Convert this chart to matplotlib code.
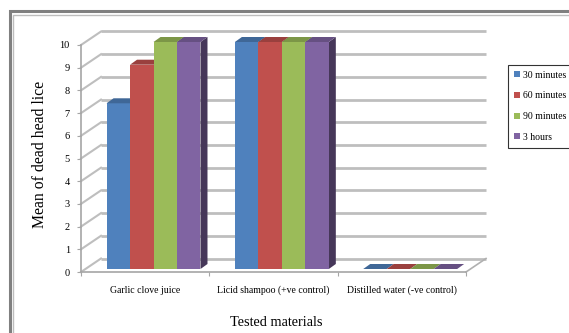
import matplotlib.pyplot as plt
from matplotlib.patches import Polygon, Rectangle, Patch
import matplotlib.colors as mcolors

# Mean number of dead head lice per treatment and exposure time
materials = ['Garlic clove juice', 'Licid shampoo (+ve control)', 'Distilled water (-ve control)']
times = ['30 minutes', '60 minutes', '90 minutes', '3 hours']
garlic = [7.3, 9.0, 10.0, 10.0]
shampoo = [10.0, 10.0, 10.0, 10.0]
water = [0.0, 0.0, 0.0, 0.0]
series = [garlic, shampoo, water]
colors = ['#4F81BD', '#C0504D', '#9BBB59', '#8064A2']

plt.rcParams['font.family'] = 'Liberation Serif'

W, H = 569, 333
fig = plt.figure(figsize=(W / 100, H / 100), dpi=100)

# outer double frame
fig.patches.append(Rectangle((9.5 / W, -0.1), 1.2, 1.1 - 11.5 / H,
                             transform=fig.transFigure, fill=False,
                             edgecolor='#808080', lw=2.2))
fig.patches.append(Rectangle((12.8 / W, -0.1), 1.2, 1.1 - 14.8 / H,
                             transform=fig.transFigure, fill=False,
                             edgecolor='#bdbdbd', lw=1.0))

x0, x1, y0, y1 = 81, 466, 272, 45
ax = fig.add_axes([x0 / W, (H - y0) / H, (x1 - x0) / W, (y0 - y1) / H])
ax.set_xlim(0, 3)
ax.set_ylim(0, 10)

# pixel -> data unit conversions for the oblique depth
px_x = 3 / (x1 - x0)
px_y = 10 / (y0 - y1)
wall_dx, wall_dy = 20 * px_x, 13.5 * px_y

grid_c = '#bebebe'
for v in range(11):
    # back wall gridline
    ax.plot([wall_dx, 3 + wall_dx], [v + wall_dy, v + wall_dy],
            color=grid_c, lw=2, clip_on=False, zorder=1, solid_capstyle='butt')
    # side wall diagonal
    ax.plot([0, wall_dx], [v, v + wall_dy], color=grid_c, lw=1.5,
            clip_on=False, zorder=1)
# floor right edge
ax.plot([3, 3 + wall_dx], [0, wall_dy], color='#b0b0b0', lw=1.2,
        clip_on=False, zorder=1)

# bars with front, top and side faces
bar_w = 0.183
f_dx, f_dy = 4.5 * px_x, 3 * px_y
b_dx, b_dy = 7 * px_x, 5 * px_y


def shade(c, k):
    r, g, b = mcolors.to_rgb(c)
    return (r * k, g * k, b * k)


for gi, vals in enumerate(series):
    start = gi + 0.5 - 2 * bar_w + 0.03
    for si, v in enumerate(vals):
        left = start + si * bar_w + f_dx
        base = f_dy
        right = left + bar_w
        top = v + base
        side = Polygon([(right, base), (right + b_dx, base + b_dy),
                        (right + b_dx, top + b_dy), (right, top)],
                       closed=True, facecolor=shade(colors[si], 0.55),
                       edgecolor='none', zorder=3 + si * 0.1, clip_on=False)
        ax.add_patch(side)
        ax.bar(left, v, width=bar_w, bottom=base, align='edge',
               color=colors[si], zorder=3 + si * 0.1 + 0.02, clip_on=False)
        cap = Polygon([(left, top), (right, top),
                       (right + b_dx, top + b_dy), (left + b_dx, top + b_dy)],
                      closed=True, facecolor=shade(colors[si], 0.8),
                      edgecolor='none', zorder=3 + si * 0.1 + 0.03, clip_on=False)
        ax.add_patch(cap)

for s in ['top', 'right']:
    ax.spines[s].set_visible(False)
for s in ['left', 'bottom']:
    ax.spines[s].set_color('#a6a6a6')
    ax.spines[s].set_linewidth(1.2)

ax.set_yticks(range(11))
ax.tick_params(axis='y', length=3, color='#a6a6a6', labelsize=7.5, pad=5)
ax.set_xticks([0, 1, 2, 3])
ax.set_xticklabels([])
ax.tick_params(axis='x', which='major', length=3, direction='out', color='#a6a6a6')
ax.set_xticks([0.5, 1.5, 2.5], minor=True)
ax.set_xticklabels(materials, minor=True)
ax.tick_params(axis='x', which='minor', length=0, labelsize=7, pad=10)

fig.text(40 / W, 1 - 154 / H, 'Mean of dead head lice', rotation=90,
         ha='center', va='center', fontsize=11.3)
fig.text(276 / W, 1 - 322 / H, 'Tested materials', ha='center', va='center',
         fontsize=10.3)

handles = [Patch(facecolor=c, edgecolor='none', label=t) for c, t in zip(colors, times)]
leg = fig.legend(handles=handles, loc='upper left',
                 bbox_to_anchor=(508 / W, 1 - 65 / H), fontsize=7,
                 frameon=True, fancybox=False, handlelength=0.6, handleheight=0.6,
                 handletextpad=0.35, labelspacing=1.2, borderpad=0.6,
                 borderaxespad=0)
leg.get_frame().set_edgecolor('black')
leg.get_frame().set_linewidth(0.8)

fig.savefig('out.png', dpi=100)
